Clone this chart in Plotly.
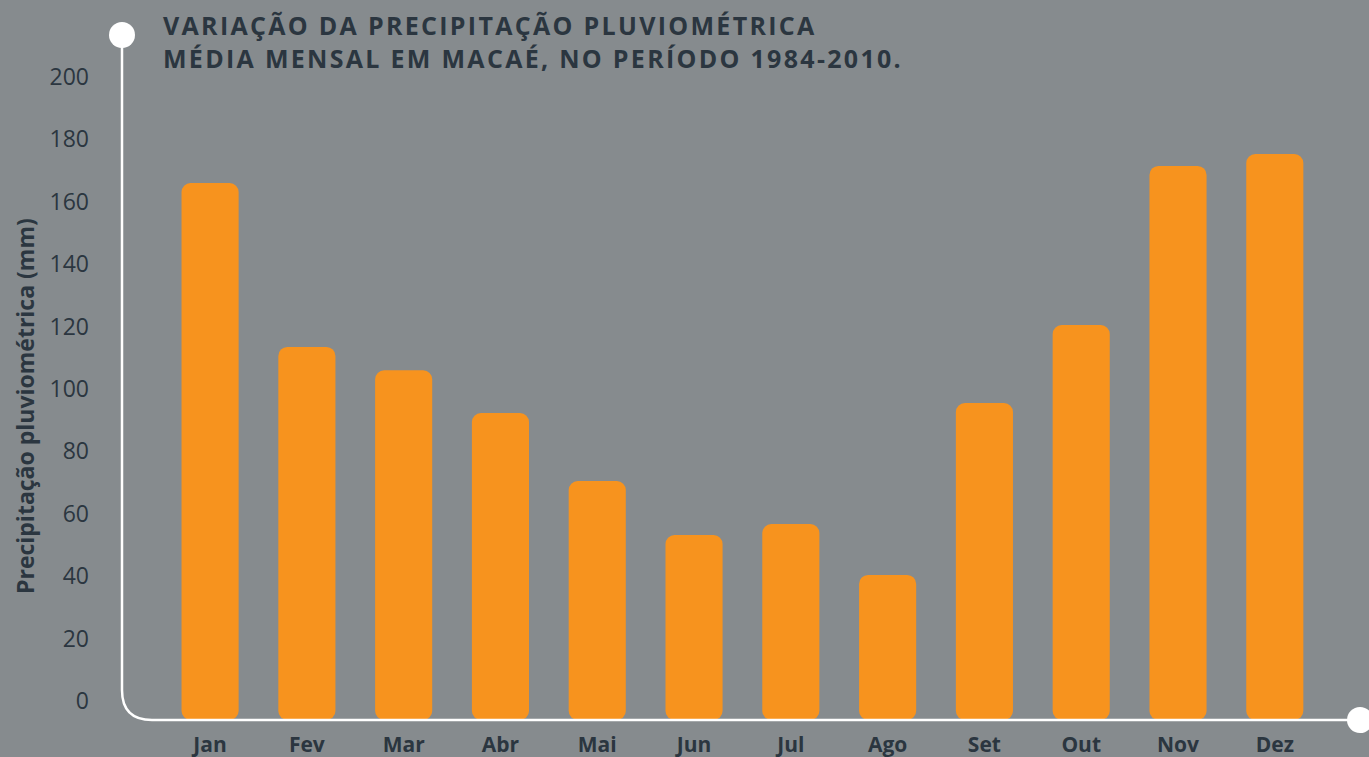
import plotly.graph_objects as go

# ---- data ----
months = ["Jan", "Fev", "Mar", "Abr", "Mai", "Jun", "Jul", "Ago", "Set", "Out", "Nov", "Dez"]
precip_mm = [166, 113.5, 106, 92.3, 70.5, 53.2, 56.7, 40.4, 95.5, 120.5, 171.5, 175.3]
y_ticks = [0, 20, 40, 60, 80, 100, 120, 140, 160, 180, 200]

title_line1 = "VARIAÇÃO DA PRECIPITAÇÃO PLUVIOMÉTRICA"
title_line2 = "MÉDIA MENSAL EM MACAÉ, NO PERÍODO 1984-2010."
y_title = "Precipitação pluviométrica (mm)"

# ---- style ----
BG = "#868b8e"
BAR = "#f7931e"
TXT = "#2b3640"
W, H = 1369, 757
ML, MR, MT, MB = 122, 10, 35, 37
PW, PH = W - ML - MR, H - MT - MB
Y_MIN, Y_MAX = -6.09, 213.46   # axis extends a bit below zero
X_MIN, X_MAX = -0.91, 11.87

fig = go.Figure()
fig.add_trace(go.Bar(
    x=months,
    y=[v - Y_MIN for v in precip_mm],
    base=Y_MIN,
    marker=dict(color=BAR, line=dict(width=0)),
    width=0.59,
    hoverinfo="skip",
))

r = 30
path = f"M 0,1 L 0,{r/PH} Q 0,0 {r/PW},0 L 1,0"
shapes = [
    dict(type="path", xref="paper", yref="paper", path=path,
         line=dict(color="white", width=2.5), layer="above"),
    dict(type="circle", xref="paper", yref="paper", xsizemode="pixel", ysizemode="pixel",
         xanchor=0, yanchor=1, x0=-13, x1=13, y0=-13, y1=13,
         fillcolor="white", line=dict(width=0)),
    dict(type="circle", xref="paper", yref="paper", xsizemode="pixel", ysizemode="pixel",
         xanchor=1, yanchor=0, x0=-12, x1=14, y0=-13, y1=13,
         fillcolor="white", line=dict(width=0)),
]

annotations = [
    dict(text=f"<b>{title_line1}<br>{title_line2}</b>", xref="paper", yref="paper",
         x=(161 - ML) / PW, y=1 + (MT - 41) / PH, xanchor="left", yanchor="middle",
         align="left", showarrow=False, font=dict(family="Open Sans", size=25, color=TXT)),
    dict(text=f"<b>{y_title}</b>", xref="paper", yref="paper",
         x=(25 - ML) / PW, y=1 - (406 - MT) / PH, xanchor="center", yanchor="middle",
         textangle=-90, showarrow=False, font=dict(family="Open Sans", size=23, color=TXT)),
]

fig.update_layout(
    width=W, height=H,
    margin=dict(l=ML, r=MR, t=MT, b=MB),
    paper_bgcolor=BG, plot_bgcolor=BG,
    showlegend=False,
    barcornerradius=9,
    shapes=shapes,
    annotations=annotations,
    xaxis=dict(
        range=[X_MIN, X_MAX], showgrid=False, zeroline=False, showline=False, ticks="",
        tickfont=dict(family="Open Sans", size=21, color=TXT),
        tickprefix="<b>", ticksuffix="</b>", ticklabelstandoff=10,
        fixedrange=True, automargin=False,
    ),
    yaxis=dict(
        range=[Y_MIN, Y_MAX], tickmode="array", tickvals=y_ticks,
        showgrid=False, zeroline=False, showline=False, ticks="",
        tickfont=dict(family="Open Sans", size=23, color=TXT),
        ticklabelstandoff=32, fixedrange=True, automargin=False,
    ),
)

post = """
document.body.style.margin='0px';
document.querySelectorAll('.annotation[data-index="0"] text').forEach(function(t){
  t.setAttribute('letter-spacing','2.3px');
});
"""
fig.write_html("out.html", post_script=post, config={"displayModeBar": False})
